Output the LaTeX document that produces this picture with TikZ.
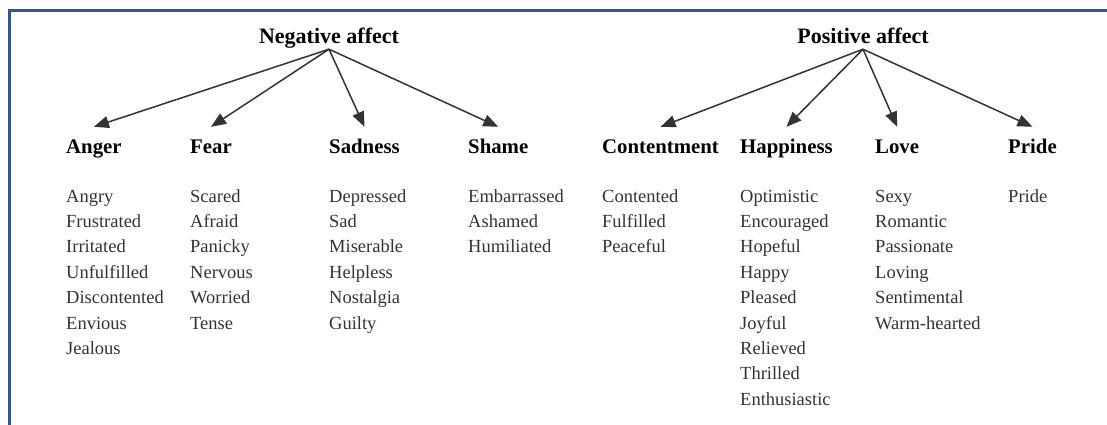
\documentclass[tikz,border=0pt]{standalone}
\usepackage{fontspec}
\setmainfont{Liberation Serif}
\usetikzlibrary{arrows.meta}
\definecolor{frameblue}{RGB}{47,85,151}

\begin{document}
\begin{tikzpicture}[x=1pt,y=-1pt,
    top/.style={anchor=base,inner sep=0pt,text depth=5pt,font=\bfseries\fontsize{22}{26}\selectfont},
    head/.style={anchor=base west,inner xsep=0pt,inner ysep=12pt,text height=14pt,text depth=4pt,font=\bfseries\fontsize{20.8}{24}\selectfont},
    item/.style={anchor=base west,inner sep=0pt,text=black!80,font=\fontsize{18.5}{22}\selectfont},
    arr/.style={-{Triangle[length=15pt,width=12pt]},line width=1.5pt,draw=black!80}]
    \useasboundingbox (0,0) rectangle (1107,425);
    \draw[frameblue,line width=3pt] (1112,10.5) -- (9,10.5) -- (9,430);

    \node[top] (neg) at (329,44) {Negative affect};
    \node[top] (pos) at (863,44) {Positive affect};

    \node[head] (anger) at (66,153) {Anger};
    \node[head] (fear) at (190,153) {Fear};
    \node[head] (sadness) at (329,153) {Sadness};
    \node[head] (shame) at (468,153) {Shame};
    \node[head] (content) at (602,153) {Contentment};
    \node[head] (happy) at (740,153) {Happiness};
    \node[head] (love) at (875,153) {Love};
    \node[head] (pride) at (1008,153) {Pride};

    \foreach \h in {anger,fear,sadness,shame}
        \draw[arr] (neg.south) -- (\h.north);
    \foreach \h in {content,happy,love,pride}
        \draw[arr] (pos.south) -- (\h.north);

    % word lists
    \foreach \w [count=\i] in {Angry,Frustrated,Irritated,Unfulfilled,Discontented,Envious,Jealous}
        \node[item] (anger-\i) at (66,{202+25.4*(\i-1)}) {\w};
    \foreach \w [count=\i] in {Scared,Afraid,Panicky,Nervous,Worried,Tense}
        \node[item] (fear-\i) at (190,{202+25.4*(\i-1)}) {\w};
    \foreach \w [count=\i] in {Depressed,Sad,Miserable,Helpless,Nostalgia,Guilty}
        \node[item] (sadness-\i) at (329,{202+25.4*(\i-1)}) {\w};
    \foreach \w [count=\i] in {Embarrassed,Ashamed,Humiliated}
        \node[item] (shame-\i) at (468,{202+25.4*(\i-1)}) {\w};
    \foreach \w [count=\i] in {Contented,Fulfilled,Peaceful}
        \node[item] (content-\i) at (602,{202+25.4*(\i-1)}) {\w};
    \foreach \w [count=\i] in {Optimistic,Encouraged,Hopeful,Happy,Pleased,Joyful,Relieved,Thrilled,Enthusiastic}
        \node[item] (happy-\i) at (740,{202+25.4*(\i-1)}) {\w};
    \foreach \w [count=\i] in {Sexy,Romantic,Passionate,Loving,Sentimental,Warm-hearted}
        \node[item] (love-\i) at (875,{202+25.4*(\i-1)}) {\w};
    \node[item] (pride-1) at (1008,202) {Pride};
\end{tikzpicture}
\end{document}
